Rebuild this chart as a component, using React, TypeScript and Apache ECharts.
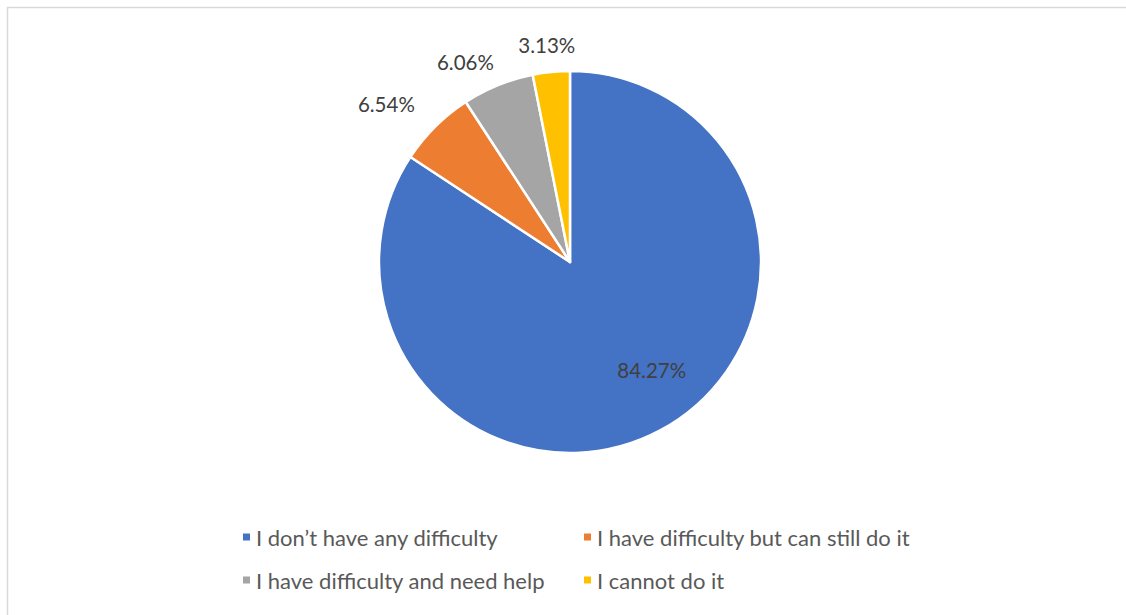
import React, { useEffect, useRef } from "react";
import * as echarts from "echarts";

const categories = [
  "I don’t have any difficulty",
  "I have difficulty but can still do it",
  "I have difficulty and need help",
  "I cannot do it",
];
const values = [84.27, 6.54, 6.06, 3.13];
const colors = ["#4472C4", "#ED7D31", "#A5A5A5", "#FFC000"];
// label nudges (px) to mimic the original's label placement
const labelShift: [number, number][] = [
  [35, 21],
  [-13, -16],
  [20, -23],
  [30, -17],
];

export default function App() {
  const ref = useRef<HTMLDivElement>(null);
  useEffect(() => {
    if (!ref.current) return;
    const chart = echarts.init(ref.current, null, { renderer: "svg" });
    const font = "Lato";
    const legendText = { fontFamily: font, fontSize: 22, color: "#595959" };
    chart.setOption({
      animation: false,
      graphic: [
        {
          type: "rect",
          shape: { x: 7.5, y: 7.5, width: 1140, height: 640 },
          style: { fill: "none", stroke: "#D9D9D9", lineWidth: 1.5 },
          silent: true,
        },
      ],
      legend: [
        {
          data: [categories[0], categories[2]],
          orient: "vertical",
          left: 236,
          top: 521,
          itemWidth: 9,
          itemHeight: 9,
          itemGap: 21,
          icon: "rect",
          textStyle: legendText,
        },
        {
          data: [categories[1], categories[3]],
          orient: "vertical",
          left: 577,
          top: 521,
          itemWidth: 9,
          itemHeight: 9,
          itemGap: 21,
          icon: "rect",
          textStyle: legendText,
        },
      ],
      series: [
        {
          type: "pie",
          center: [570, 262],
          radius: [0, 191],
          startAngle: 90,
          clockwise: true,
          itemStyle: { borderColor: "#fff", borderWidth: 2.5 },
          label: {
            show: true,
            position: "outside",
            formatter: (p: any) => p.value.toFixed(2) + "%",
            fontFamily: font,
            fontSize: 20.5,
            color: "#404040",
          },
          labelLine: { show: false, length: 10, length2: 0 },
          labelLayout: (p: any) => ({
            dx: labelShift[p.dataIndex][0],
            dy: labelShift[p.dataIndex][1],
          }),
          data: categories.map((name, i) => ({
            name,
            value: values[i],
            itemStyle: { color: colors[i] },
            label: i === 0 ? { position: "inside" } : undefined,
          })),
        },
      ],
    });
    return () => chart.dispose();
  }, []);
  return (
    <div
      ref={ref}
      style={{ position: "fixed", left: 0, top: 0, width: 1126, height: 615, background: "#fff" }}
    />
  );
}
